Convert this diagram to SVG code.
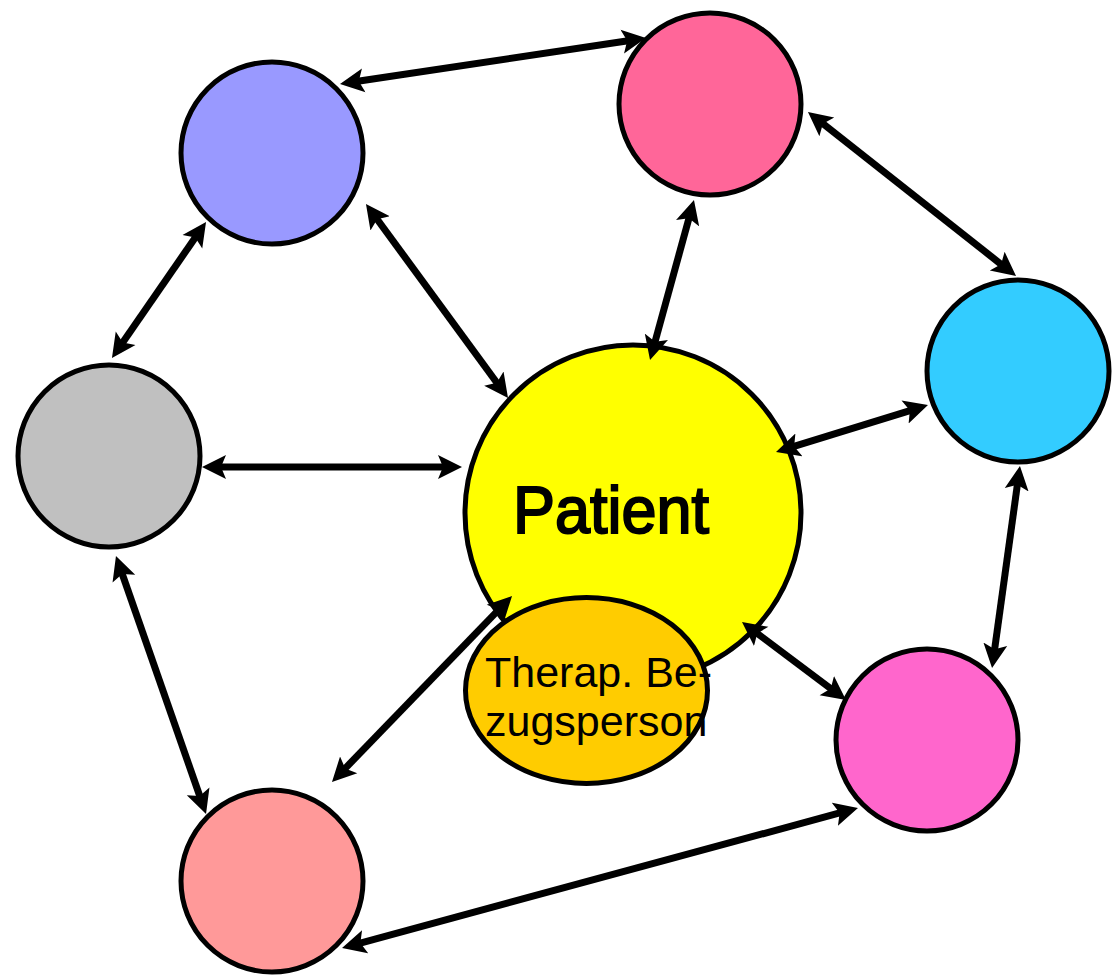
<svg xmlns="http://www.w3.org/2000/svg" width="1120" height="980" viewBox="0 0 1120 980">
<defs>
<style>
.n{stroke:#000;stroke-width:5}
.c{stroke:#000;stroke-width:7;fill:none;marker-start:url(#ah);marker-end:url(#ah)}
.t{font-family:"Liberation Sans",Arial,sans-serif;fill:#000}
</style>
<marker id="ah" markerUnits="userSpaceOnUse" viewBox="0 -13 26 26" markerWidth="26" markerHeight="26" refX="6" refY="0" orient="auto-start-reverse">
<path d="M0,-12 L24,0 L0,12 L5,0 z" fill="#000"/>
</marker>
</defs>
<rect width="1120" height="980" fill="#fff"/>
<g id="node-purple"><circle class="n" cx="272" cy="153" r="91" fill="#9999FF"/></g>
<g id="node-pink"><circle class="n" cx="710" cy="104" r="91" fill="#FF6699"/></g>
<g id="node-cyan"><circle class="n" cx="1018" cy="371" r="91" fill="#33CCFF"/></g>
<g id="node-gray"><circle class="n" cx="109" cy="456" r="91" fill="#C0C0C0"/></g>
<g id="node-magenta"><circle class="n" cx="927" cy="740" r="91" fill="#FF66CC"/></g>
<g id="node-salmon"><circle class="n" cx="272" cy="881" r="91" fill="#FF9999"/></g>
<g id="node-patient"><circle class="n" cx="633" cy="513" r="168" fill="#FFFF00"/>
<text class="t" x="513" y="533" font-size="66" stroke="#000" stroke-width="2" textLength="196" lengthAdjust="spacingAndGlyphs">Patient</text></g>
<g id="node-therap"><ellipse class="n" cx="586.5" cy="690.5" rx="121" ry="93" fill="#FFCC00"/>
<text class="t" x="485" y="687" font-size="43">Therap. Be-</text>
<text class="t" x="485" y="736" font-size="43">zugsperson</text></g>
<g id="connectors">
<line class="c" x1="357.8" y1="81.3" x2="628.2" y2="40.7"/>
<line class="c" x1="822.1" y1="123.1" x2="1001.9" y2="264.9"/>
<line class="c" x1="195.8" y1="236.8" x2="122.2" y2="343.2"/>
<line class="c" x1="376.6" y1="218.5" x2="497.4" y2="383.5"/>
<line class="c" x1="689.2" y1="217.4" x2="654.8" y2="342.6"/>
<line class="c" x1="220" y1="467" x2="444" y2="467"/>
<line class="c" x1="793.2" y1="446.7" x2="910.8" y2="410.3"/>
<line class="c" x1="1017.5" y1="483.8" x2="994.5" y2="650.2"/>
<line class="c" x1="756.4" y1="632.8" x2="831.6" y2="689.2"/>
<line class="c" x1="121.9" y1="573" x2="200.1" y2="797"/>
<line class="c" x1="499.5" y1="608.9" x2="344.5" y2="769.1"/>
<line class="c" x1="359.4" y1="943.3" x2="840.6" y2="812.7"/>
</g>
</svg>
